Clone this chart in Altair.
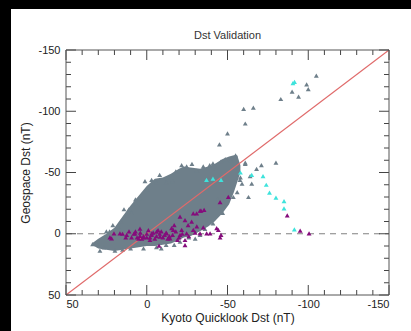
import altair as alt
import pandas as pd

FONT = "Liberation Sans"

chart_title = ["Dst Validation"]

major_ticks = [50, 0, -50, -100, -150]
minor_ticks = [40, 30, 20, 10, -10, -20, -30, -40, -60, -70, -80,
               -90, -110, -120, -130, -140]

# dense core of the gray cloud (upper / lower edge per x)
cloud_x = [34, 30, 25, 20, 15, 10, 5, 0, -5, -10, -15, -20, -23, -27, -33,
           -38, -42, -47, -51, -54, -56, -58]
cloud_top = [8, 4, 0, -5, -14, -23, -31, -39, -45, -46, -49, -53, -55, -54,
             -53, -55, -57, -61, -63, -64, -64, -56]
cloud_bottom = [9, 12, 13, 14, 13, 12, 11, 10, 10, 9, 8, 5, 3, 2, -2, -6,
                -10, -17, -24, -34, -42, -50]

gray_x = [-105, -99, -100, -90, -94, -83, -60, -66, -61, -50, -45, -80, -71,
          -68, -61, -63, -65, -55, -52, -61, -64, -58, -59, -44, -56,
          33.5, 31, 29, 26.5, 19.7, 14.1, 1.1, 9.4, 6.2, 4.2, 0, -6, -12, -16,
          -21.6, -24.7, -31, -41, -48.6, -43, 23, 18, 16, 12,
          2, -6, -20.6, -33, -41, -47, -53.6, -57.7, 10, 15, -12, -26, -36,
          -3, -8, -18, -28, -35, -39, -46, 7, 11, 21, 25, -9, -17, -30]
gray_y = [-129, -122, -118, -116, -112, -110, -102, -103, -90, -82, -73, -58,
          -56, -53, -57, -30, -41, -64, -60, -58, -47, -46, -41, -28, -34,
          8.4, 7.8, 13.8, 11.1, 13.8, -20, -43, -17, -23.5, -29, -36, -42, -42,
          -43, -56, -55, -51.5, -57.5, -61, -53, -2, -6, -10, -15,
          12, 11, 6.5, 1, -8.5, -17, -30, -44, 12, 13, 9, 3, -4,
          -44, -48, -51, -57, -55, -56, -59, -28, -20, -7, -2, 12, 9, 4]

cyan_x = [-37, -41, -46, -58, -65, -72, -74, -76, -80, -85, -85, -91.4,
          -90.5, -91.5]
cyan_y = [-44, -45, -44, -50, -48, -47, -40, -33.5, -29.4, -26.7, -20.8, -3.6,
          -123, -124]

purple_x = [22.8, 20.3, 7.3, 4.2, 0, -3.1, -6.1, -8.2, -12.3, -7.6, -16.4,
            -20.6, -23.7, -24.7, -27.8, -28.8, -33, -35.5, -37.1, -39.2,
            -43.3, -44.3, -45.4, -45.4, -50.5, -33, -30.9, -25.6, -21.6, 4.2,
            12.4, 16.6, 9.4, 2.1, -2, -14.4, -20.6, 21.8, -15.4, -23.7, -28.8,
            -33.6, -35, -46, -23.7,
            8, 6, 4, 2, 0, -2, -4, -6, -8, -10, -12, -14, 5, -1, -5, -9, -13,
            7, 3, -3, -7, -11,
            -16, -18, -20, -22, -26, -30, -31, -17, -19, 13, 15, 11,
            -87, -95, -100.5]
purple_y = [2.9, -0.4, -0.4, 1.8, 2.9, -0.4, -1.7, 2.4, -0.4, 9.7, -3.1,
            -13.9, 9.2, -0.4, -9.9, -3.1, -0.4, -19.4, -0.4, -0.4, -4.5, -3.1,
            2.9, -25.9, -30.2, -18.9, -16.7, -7.1, -3.1, -4.1, 1.0, -0.4, 2.9,
            2.9, 5.1, 3.7, 1.0, 3.7, -4.5, -11.2, -16.7, -18.9, -5.2, 1.0, 5.1,
            0, 3, -1, 2, 0, 3, -1, 2, 0, 3, -1, 2, 4, -3, 4, -2, 4,
            -2, 4, 1, -3, 1,
            1, -2, 3, 0, 2, -1, -6, -7, 5, 3, 0, -2,
            -15, -2.5, -0.4]

diag_x = [50, -150]
diag_y = [50, -150]
zero_x = [50, -150]
zero_y = [0, 0]

DOM = [-150, 50]
GRAY = "#6e7f8a"
CYAN = "#3ee3dc"
PURPLE = "#850c7c"
TICK = "#444444"
W, H = 323, 245
MAJ, MIN = 10, 5

SC = alt.Scale(domain=DOM, reverse=True, nice=False, zero=False)
X_AX = alt.Axis(values=major_ticks, ticks=False, domain=False, grid=False,
                labelPadding=3, title="Kyoto Quicklook Dst (nT)",
                titlePadding=3, labelExpr="'' + datum.value", zindex=2)
Y_AX = alt.Axis(values=major_ticks, ticks=False, domain=False, grid=False,
                labelPadding=6, title="Geospace Dst (nT)", titlePadding=5,
                labelExpr="'' + datum.value", zindex=2)


def X(f):
    return alt.X(f, scale=SC, axis=X_AX)


def Y(f):
    return alt.Y(f, scale=SC, axis=Y_AX)


one = pd.DataFrame({"a": [0]})

panel = alt.Chart(one).mark_rect(color="white").encode(
    x=alt.value(-55), x2=alt.value(345), y=alt.value(-41), y2=alt.value(281))

frame = alt.Chart(one).mark_rect(fillOpacity=0, stroke="#555555",
                                 strokeWidth=1).encode(
    x=alt.value(0), x2=alt.value(W), y=alt.value(0), y2=alt.value(H))

title = alt.Chart(pd.DataFrame({"t": chart_title})).mark_text(
    font=FONT, fontSize=11, color="#333333", align="center",
    baseline="alphabetic").encode(
    text="t:N", x=alt.value(W / 2), y=alt.value(-11))

cloud = alt.Chart(pd.DataFrame({"x": cloud_x, "top": cloud_top,
                                "bottom": cloud_bottom})).mark_area(
    color=GRAY, opacity=1).encode(x=X("x:Q"), y=Y("top:Q"), y2="bottom:Q")

zero = alt.Chart(pd.DataFrame({"x": zero_x, "y": zero_y})).mark_line(
    color="#808080", strokeDash=[6, 5], strokeWidth=1).encode(
    x=X("x:Q"), y=Y("y:Q"))


def pts(xs, ys, color):
    return alt.Chart(pd.DataFrame({"x": xs, "y": ys})).mark_point(
        shape="triangle-up", filled=True, size=24, color=color,
        opacity=1).encode(x=X("x:Q"), y=Y("y:Q"))


gray = pts(gray_x, gray_y, GRAY)
cyan = pts(cyan_x, cyan_y, CYAN)
purple = pts(purple_x, purple_y, PURPLE)

diag = alt.Chart(pd.DataFrame({"x": diag_x, "y": diag_y})).mark_line(
    color="#e06a6a", strokeWidth=1.1).encode(x=X("x:Q"), y=Y("y:Q"))


def xticks(vals, length):
    d = pd.DataFrame({"x": vals})
    bot = alt.Chart(d).mark_rule(color=TICK, strokeWidth=1).encode(
        x=X("x:Q"), y=alt.value(H), y2=alt.value(H - length))
    top = alt.Chart(d).mark_rule(color=TICK, strokeWidth=1).encode(
        x=X("x:Q"), y=alt.value(0), y2=alt.value(length))
    return [bot, top]


def yticks(vals, length):
    d = pd.DataFrame({"y": vals})
    left = alt.Chart(d).mark_rule(color=TICK, strokeWidth=1).encode(
        y=Y("y:Q"), x=alt.value(0), x2=alt.value(length))
    right = alt.Chart(d).mark_rule(color=TICK, strokeWidth=1).encode(
        y=Y("y:Q"), x=alt.value(W), x2=alt.value(W - length))
    return [left, right]


tick_layers = (xticks(major_ticks, MAJ) + xticks(minor_ticks, MIN)
               + yticks(major_ticks, MAJ) + yticks(minor_ticks, MIN))

chart = alt.layer(panel, cloud, zero, gray, diag, cyan, purple,
                  *tick_layers, frame, title).properties(
    width=W, height=H,
    background="black",
    padding={"left": 66, "top": 50, "right": 22, "bottom": 36},
    autosize=alt.AutoSizeParams(type="none"),
).configure_view(stroke=None).configure_axis(
    labelFont=FONT, labelFontSize=11, labelColor="#222222",
    titleFont=FONT, titleFontSize=12, titleFontWeight="normal",
    titleColor="#222222")

chart.save("out.html", embed_options={"renderer": "svg", "actions": False})
